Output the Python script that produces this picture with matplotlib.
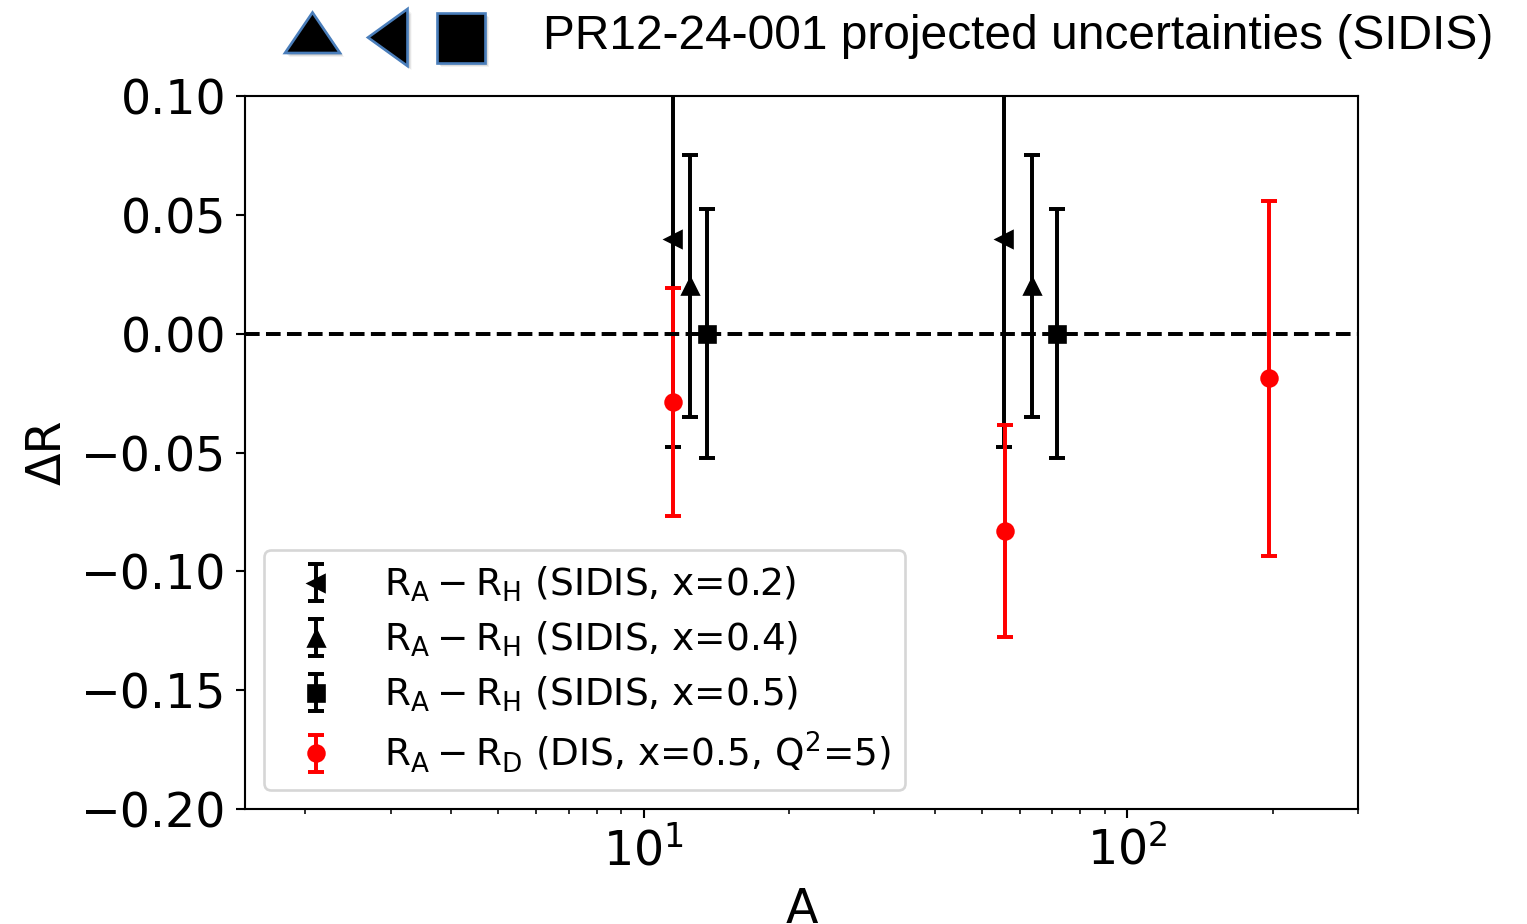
import matplotlib
matplotlib.use('Agg')
import matplotlib.pyplot as plt
from matplotlib.patches import Polygon

# ---------------- data ----------------
A_x02 = [11.5, 55.5]
dR_x02 = [0.040, 0.040]
err_x02 = [0.0875, 0.0875]

A_x04 = [12.5, 63.5]
dR_x04 = [0.020, 0.020]
err_x04 = [0.055, 0.055]

A_x05 = [13.5, 71.5]
dR_x05 = [0.0, 0.0]
err_x05 = [0.0525, 0.0525]

A_dis = [11.5, 56.0, 196.5]
dR_dis = [-0.0287, -0.0831, -0.0187]
err_dis = [0.048, 0.0446, 0.0747]

labels = [r'$\mathrm{R_A-R_H}$ (SIDIS, x=0.2)',
          r'$\mathrm{R_A-R_H}$ (SIDIS, x=0.4)',
          r'$\mathrm{R_A-R_H}$ (SIDIS, x=0.5)',
          r'$\mathrm{R_A-R_D}$ (DIS, x=0.5, $\mathrm{Q^2}$=5)']
yticks = [0.10, 0.05, 0.00, -0.05, -0.10, -0.15, -0.20]
title = "PR12-24-001 projected uncertainties (SIDIS)"

# ---------------- figure ----------------
W, H, DPI = 1527, 924, 190
fig = plt.figure(figsize=(W / DPI, H / DPI), dpi=DPI)
ax = fig.add_axes([245 / W, 1 - 809 / H, (1358 - 245) / W, (809 - 96) / H])

kw = dict(capsize=3, lw=1.5, ms=6, capthick=1.5)
ax.errorbar(A_x02, dR_x02, yerr=err_x02, fmt='<', color='k', label=labels[0], **kw)
ax.errorbar(A_x04, dR_x04, yerr=err_x04, fmt='^', color='k', label=labels[1], **kw)
ax.errorbar(A_x05, dR_x05, yerr=err_x05, fmt='s', color='k', label=labels[2], **kw)
ax.errorbar(A_dis, dR_dis, yerr=err_dis, fmt='o', color='red', label=labels[3], **kw)
ax.axhline(0, color='k', ls='--', lw=1.5)

ax.set_xscale('log')
ax.set_xlim(1.5, 300)
ax.set_ylim(-0.2, 0.1)
ax.set_yticks(yticks)
ax.tick_params(labelsize=18)
ax.set_xlabel('A', fontsize=18)
ax.set_ylabel('ΔR', fontsize=18)
ax.legend(loc='lower left', fontsize=14.2, labelspacing=0.42)

# ---------------- header icons + text ----------------
def px(x, y):
    return (x / W, 1 - y / H)

icons = [
    [(285, 53), (312.5, 12.5), (340, 53)],
    [(368, 37.5), (407.5, 9), (407.5, 66)],
    [(437, 12.5), (485, 12.5), (485, 63), (437, 63)],
]
for verts in icons:
    for k, a in [(4, 0.08), (3, 0.12), (2, 0.15)]:
        sh = [px(x + k, y + k) for x, y in verts]
        fig.add_artist(Polygon(sh, closed=True, transform=fig.transFigure,
                               facecolor='0.3', edgecolor='none', alpha=a))
    fig.add_artist(Polygon([px(x, y) for x, y in verts], closed=True,
                           transform=fig.transFigure, facecolor='black',
                           edgecolor='#4a7ebb', lw=1.0))

fig.text(543 / W, 1 - 49 / H, title, fontfamily='Liberation Sans',
         fontsize=18.15, ha='left', va='baseline')

fig.savefig('out.png', dpi=DPI)
